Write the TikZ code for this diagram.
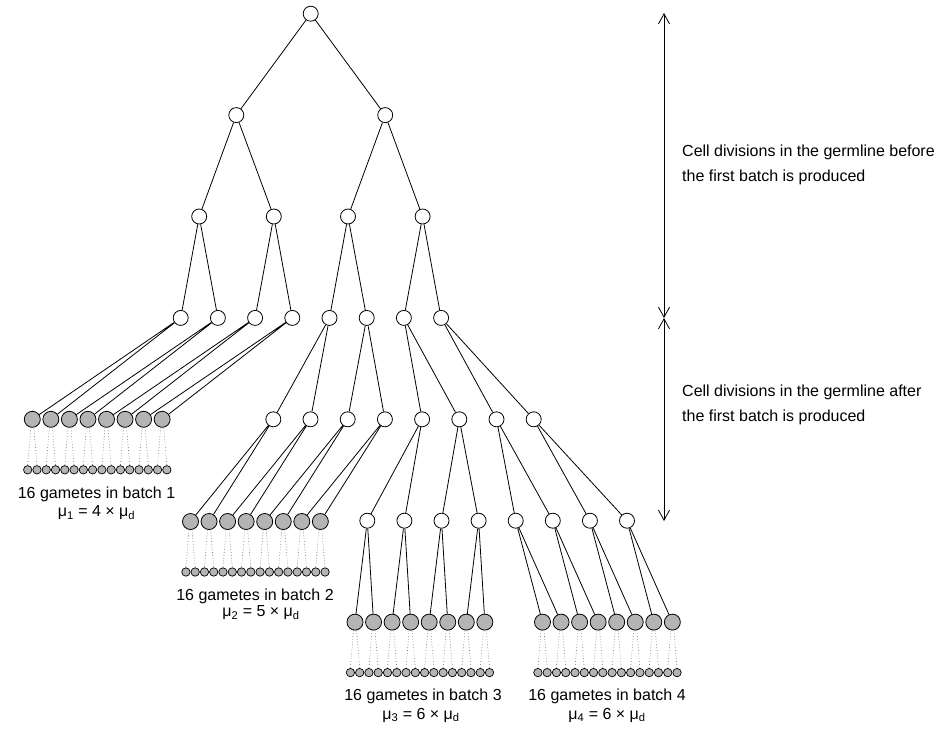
\documentclass[tikz,border=0pt]{standalone}
\usepackage{fontspec}
\setmainfont{Liberation Sans}
\usetikzlibrary{arrows.meta}
\definecolor{cellgray}{RGB}{180,180,180}
\definecolor{dotgray}{RGB}{120,120,120}
\begin{document}
\begin{tikzpicture}[x=1pt,y=-1pt,
  wcell/.style={circle,draw=black,fill=white,line width=0.8pt,minimum size=15pt,inner sep=0pt},
  gcell/.style={circle,draw=black,fill=cellgray,line width=0.8pt,minimum size=16pt,inner sep=0pt},
  gamete/.style={circle,draw=black,fill=cellgray,line width=0.7pt,minimum size=8.4pt,inner sep=0pt},
  edge/.style={draw=black,line width=0.8pt},
  dotedge/.style={draw=dotgray,line width=0.6pt,dash pattern=on 0.8pt off 2pt},
  lbl/.style={inner sep=0pt,font=\fontsize{16}{19}\selectfont},
  sidelbl/.style={inner sep=0pt,anchor=west,align=left,font=\fontsize{16}{25}\selectfont},
  barb/.style={{Straight Barb[length=10pt,width=11pt]}-{Straight Barb[length=10pt,width=11pt]},line width=0.8pt}
]
\useasboundingbox (0,0) rectangle (952,729);

% levels
\node[wcell] (L0) at (310.7,13.7) {};
\node[wcell] (L1-0) at (236.3,115.1) {};
\node[wcell] (L1-1) at (385.2,115.1) {};
\foreach \i/\x in {0/199.2,1/273.8,2/348.0,3/422.6}{
  \node[wcell] (L2-\i) at (\x,216.5) {};
}
\foreach \i in {0,...,7}{
  \node[wcell] (L3-\i) at ({180.7+37.2*\i},317.9) {};
  \node[wcell] (L4-\i) at ({273.3+37.2*\i},419.3) {};
  \node[wcell] (L5-\i) at ({367.3+37.1*\i},520.7) {};
}

% gray cells and gametes
\foreach \b/\x/\y in {1/32.3/419.3,2/190.5/521.5,3/355.0/622.1,4/542.5/622.1}{
  \foreach \i in {0,...,7}{
    \node[gcell] (B\b-\i) at ({\x+18.55*\i},\y) {};
  }
  \foreach \j in {0,...,15}{
    \node[gamete] (S\b-\j) at ({\x-4.6+9.275*\j},{\y+50.5}) {};
  }
}

% tree edges
\draw[edge] (L0) -- (L1-0) (L0) -- (L1-1);
\foreach \i [evaluate=\i as \a using int(2*\i), evaluate=\i as \c using int(2*\i+1)] in {0,1}{
  \draw[edge] (L1-\i) -- (L2-\a) (L1-\i) -- (L2-\c);
}
\foreach \i [evaluate=\i as \a using int(2*\i), evaluate=\i as \c using int(2*\i+1)] in {0,...,3}{
  \draw[edge] (L2-\i) -- (L3-\a) (L2-\i) -- (L3-\c);
}
\foreach \i [evaluate=\i as \a using int(2*\i), evaluate=\i as \c using int(2*\i+1), evaluate=\i as \k using int(\i+4)] in {0,...,3}{
  \draw[edge] (L3-\i) -- (B1-\a) (L3-\i) -- (B1-\c);
  \draw[edge] (L3-\k) -- (L4-\a) (L3-\k) -- (L4-\c);
  \draw[edge] (L4-\i) -- (B2-\a) (L4-\i) -- (B2-\c);
  \draw[edge] (L4-\k) -- (L5-\a) (L4-\k) -- (L5-\c);
  \draw[edge] (L5-\i) -- (B3-\a) (L5-\i) -- (B3-\c);
  \draw[edge] (L5-\k) -- (B4-\a) (L5-\k) -- (B4-\c);
}
% dotted lineage to gametes
\foreach \b in {1,...,4}{
  \foreach \i [evaluate=\i as \a using int(2*\i), evaluate=\i as \c using int(2*\i+1)] in {0,...,7}{
    \draw[dotedge] ([xshift=-1.5pt]B\b-\i.south) -- (S\b-\a.north);
    \draw[dotedge] ([xshift=1.5pt]B\b-\i.south) -- (S\b-\c.north);
  }
}

% batch labels
\node[lbl] (lab1) at (96.5,494) {16 gametes in batch 1};
\node[lbl] (mu1) at (96.5,513) {μ\textsubscript{1} = 4 × μ\textsubscript{d}};
\node[lbl] (lab2) at (255,596) {16 gametes in batch 2};
\node[lbl] (mu2) at (261,613) {μ\textsubscript{2} = 5 × μ\textsubscript{d}};
\node[lbl] (lab3) at (423,696) {16 gametes in batch 3};
\node[lbl] (mu3) at (421,715) {μ\textsubscript{3} = 6 × μ\textsubscript{d}};
\node[lbl] (lab4) at (607,696) {16 gametes in batch 4};
\node[lbl] (mu4) at (607,715) {μ\textsubscript{4} = 6 × μ\textsubscript{d}};

% side arrows
\coordinate (aT) at (664,13);
\coordinate (aM) at (664,318);
\coordinate (aB) at (664,521);
\draw[barb] (aT) -- (aM);
\draw[barb] (aM) -- (aB);
\node[sidelbl] (side1) at (682,165) {Cell divisions in the germline before\\the first batch is produced};
\node[sidelbl] (side2) at (682,405) {Cell divisions in the germline after\\the first batch is produced};
\end{tikzpicture}
\end{document}
